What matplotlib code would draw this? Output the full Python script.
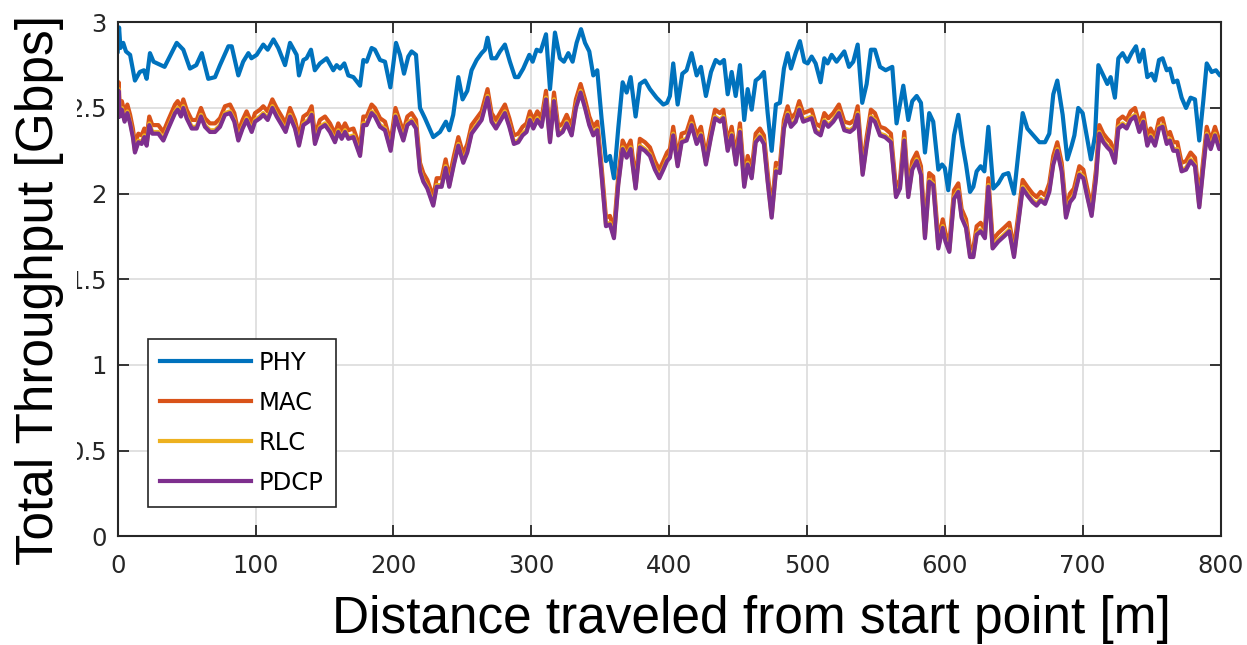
import matplotlib
matplotlib.use('Agg')
import matplotlib.pyplot as plt
from matplotlib.patches import Rectangle

# ---------------- data ----------------
phy_dist = [0, 1, 2, 4, 6, 9, 12.5, 16, 19, 21, 23.4, 26, 34, 42.8, 47.6, 52.4, 57, 61, 65.7, 70.6,
            74.2, 80.3, 82.7, 87.5, 91, 94.8, 97, 100.8, 105.6, 108.8, 113, 116.5, 121.4, 125, 129.8,
            131.5, 134.7, 137, 140.2, 143, 146.7, 151.6, 156.4, 158.8, 161.3, 164.4, 167.3, 171, 175.8,
            178.2, 180.6, 184.2, 186.6, 190.3, 193.9, 197.8, 201.9, 204.8, 207.7, 210.8, 213.2, 216.4,
            219.3, 222.9, 228.9, 233.8, 238.1, 240.5, 243.4, 247.1, 250.2, 253.6, 256.7, 260.4, 264,
            266.4, 268.3, 271.2, 274.4, 277.3, 280.9, 284.5, 288.2, 290.6, 294.2, 298.6, 301, 303.9,
            306.8, 310.7, 313.6, 317.2, 320.8, 323.7, 326.9, 330, 332.9, 336.1, 339, 342.1, 345, 347.9,
            351, 354.2, 357.1, 360, 363.1, 366.3, 369.2, 372.1, 375.7, 378.8, 382.5, 386.1, 390.9,
            395.8, 398.5, 400.6, 403, 406.2, 409.6, 412.7, 416.3, 420, 423.1, 426.7, 430.4, 433.8,
            436.9, 439.8, 442.5, 445.4, 448.3, 451.4, 454.5, 457, 459.9, 462.8, 465.9, 468.8, 471.5,
            474.4, 477.5, 480.4, 483.3, 486, 488.4, 491.8, 494.9, 498.1, 500.5, 503.4, 506.3, 509.9,
            512.6, 515, 517.9, 521.5, 527.1, 530.5, 533.6, 536.8, 540.1, 543.3, 546.4, 549.3, 553,
            557.1, 561.9, 565, 569.9, 573.5, 576.4, 579.6, 582.7, 585.6, 588.7, 591.6, 595.3, 598,
            600, 602.5, 606.7, 609.8, 613, 615.4, 618.3, 620.7, 623.1, 626, 628.7, 631.6, 635.2,
            638.8, 642.4, 646.1, 650.2, 656.5, 659.9, 664.2, 668.6, 672.7, 675.8, 678.7, 681.6,
            685.5, 688.9, 692, 694, 696.8, 700, 702.9, 706, 709, 711.4, 715, 717.9, 720.3, 723.4,
            725.9, 729, 732.4, 735.5, 738.7, 741.1, 744, 746.9, 750, 752.5, 755.4, 758, 761, 763.3,
            765.8, 768.7, 771.8, 775, 778.3, 781.5, 784.6, 787.5, 790, 793.6, 796.7, 799.6, 800]
phy = [2.83, 2.97, 2.85, 2.88, 2.83, 2.81, 2.66, 2.71, 2.72, 2.67, 2.82, 2.77, 2.74, 2.88, 2.84, 2.73,
       2.75, 2.82, 2.67, 2.68, 2.75, 2.86, 2.86, 2.69, 2.77, 2.82, 2.79, 2.81, 2.87, 2.84, 2.90, 2.85,
       2.75, 2.88, 2.81, 2.69, 2.78, 2.79, 2.84, 2.72, 2.76, 2.79, 2.72, 2.75, 2.73, 2.76, 2.69, 2.68,
       2.63, 2.78, 2.77, 2.85, 2.84, 2.78, 2.77, 2.62, 2.88, 2.81, 2.70, 2.80, 2.83, 2.81, 2.50, 2.44,
       2.33, 2.36, 2.42, 2.37, 2.46, 2.68, 2.55, 2.60, 2.72, 2.78, 2.82, 2.84, 2.91, 2.79, 2.79, 2.83,
       2.87, 2.77, 2.68, 2.68, 2.73, 2.81, 2.77, 2.84, 2.83, 2.93, 2.61, 2.94, 2.79, 2.77, 2.82, 2.77,
       2.88, 2.96, 2.88, 2.83, 2.69, 2.72, 2.44, 2.19, 2.22, 2.09, 2.38, 2.65, 2.59, 2.68, 2.45, 2.64,
       2.66, 2.61, 2.56, 2.52, 2.53, 2.57, 2.76, 2.52, 2.70, 2.72, 2.82, 2.69, 2.74, 2.57, 2.71, 2.78,
       2.76, 2.78, 2.58, 2.71, 2.57, 2.75, 2.43, 2.61, 2.49, 2.66, 2.68, 2.71, 2.47, 2.25, 2.52, 2.53,
       2.73, 2.82, 2.73, 2.82, 2.89, 2.77, 2.76, 2.80, 2.76, 2.65, 2.79, 2.76, 2.81, 2.77, 2.83, 2.74,
       2.77, 2.87, 2.53, 2.64, 2.84, 2.84, 2.74, 2.72, 2.74, 2.41, 2.63, 2.43, 2.54, 2.57, 2.53, 2.24,
       2.47, 2.42, 2.14, 2.17, 2.15, 2.02, 2.34, 2.46, 2.28, 2.17, 2.01, 2.04, 2.13, 2.16, 2.13, 2.39,
       2.03, 2.06, 2.11, 2.12, 2.00, 2.47, 2.38, 2.34, 2.30, 2.30, 2.35, 2.58, 2.66, 2.46, 2.20, 2.28,
       2.34, 2.50, 2.47, 2.34, 2.20, 2.34, 2.75, 2.69, 2.64, 2.68, 2.56, 2.79, 2.82, 2.77, 2.82, 2.86,
       2.77, 2.84, 2.68, 2.70, 2.66, 2.78, 2.79, 2.72, 2.73, 2.65, 2.66, 2.56, 2.50, 2.56, 2.55, 2.31,
       2.54, 2.76, 2.71, 2.72, 2.69, 2.69]

low_dist = [0, 0.7, 1.5, 3, 5, 7, 9, 11, 12.5, 15, 17.4, 19.3, 21, 22.9, 25.1, 29.5, 33.1, 36.7, 41.6,
            43.5, 45.9, 47.6, 50, 53.7, 57.3, 60.4, 63.3, 66.9, 70.6, 74.2, 77.8, 81.5, 84.6, 87.5,
            90.6, 93.5, 97.2, 99.6, 103.2, 105.6, 108.8, 112.2, 115.3, 119, 121.8, 125, 128.6, 131.5,
            134.7, 138.3, 140.7, 143.1, 146.7, 150.4, 154, 157.6, 160, 162.5, 164.9, 167.3, 171,
            175.8, 178.2, 180.6, 184.2, 186.6, 190.3, 193.9, 198, 201.5, 204.3, 207.2, 210.1, 213.2,
            216.4, 219.3, 221.7, 224.6, 228.9, 231.4, 235, 237.9, 240.5, 243.9, 247.1, 250.7, 253.6,
            256.7, 260.4, 264, 268.3, 271.2, 274.4, 277.3, 280.9, 284.1, 287.4, 290.6, 293.7, 296.6,
            299, 301.5, 304.4, 307.5, 310.7, 313.6, 316.5, 319.6, 322.8, 325.7, 329.3, 332.4, 335.8,
            339, 342.1, 345, 347.9, 351, 354.2, 357.1, 360, 363.1, 366.3, 369.2, 372.1, 375.7, 378.8,
            382.5, 386.1, 389.7, 392.9, 395.8, 398.5, 400.6, 403, 406.2, 409.1, 412.7, 416.3, 420,
            423.1, 426.7, 430.4, 433.3, 436.9, 439.3, 442.5, 445.4, 448.5, 451.4, 454.5, 457, 459.9,
            462.8, 465.9, 468.8, 471.5, 474.4, 477.5, 480.4, 483.3, 486, 488.4, 491.8, 494.4, 497.3,
            500.5, 503.4, 506.3, 509.9, 512.6, 515.5, 519.1, 523.2, 527.1, 531.2, 534.3, 536.8,
            540.4, 543.3, 546.4, 549.3, 553, 556.6, 560.9, 564.6, 567.5, 570.6, 573.5, 576.4, 579.6,
            582.7, 585.6, 588.7, 591.6, 595.3, 598.5, 600.5, 603.3, 606.7, 609.8, 612.2, 615.4,
            618.3, 620.7, 623.1, 626, 629.1, 631.6, 634.7, 638.8, 642.9, 646.8, 650.2, 656.5, 659.9,
            663.7, 666.6, 669.5, 672.7, 675.8, 678.7, 681.6, 684.8, 687.9, 690.8, 693.7, 697.6,
            700.5, 703.4, 706.5, 709.7, 712.1, 715, 717.9, 720.3, 723.4, 725.9, 729, 731.9, 734.8,
            738, 741.1, 744, 746.9, 749.3, 752.5, 755.4, 758, 761, 763.3, 765.8, 768.7, 771.8, 775,
            778.3, 781.5, 784.6, 787.5, 790, 792.9, 796, 799.1, 800]
pdcp = [2.45, 2.60, 2.45, 2.49, 2.42, 2.47, 2.41, 2.33, 2.24, 2.30, 2.29, 2.33, 2.28, 2.40, 2.35, 2.35,
        2.31, 2.38, 2.47, 2.49, 2.45, 2.50, 2.44, 2.38, 2.38, 2.45, 2.39, 2.36, 2.36, 2.39, 2.46, 2.47,
        2.42, 2.31, 2.38, 2.43, 2.36, 2.42, 2.44, 2.46, 2.43, 2.50, 2.45, 2.40, 2.36, 2.45, 2.38, 2.28,
        2.40, 2.42, 2.46, 2.29, 2.38, 2.40, 2.36, 2.30, 2.36, 2.32, 2.36, 2.32, 2.33, 2.22, 2.40, 2.40,
        2.47, 2.45, 2.39, 2.37, 2.25, 2.45, 2.38, 2.31, 2.40, 2.42, 2.38, 2.13, 2.07, 2.03, 1.93, 2.04,
        2.04, 2.15, 2.04, 2.17, 2.28, 2.18, 2.24, 2.35, 2.39, 2.43, 2.56, 2.42, 2.38, 2.42, 2.47, 2.39,
        2.29, 2.30, 2.34, 2.36, 2.43, 2.38, 2.43, 2.39, 2.55, 2.30, 2.54, 2.34, 2.36, 2.41, 2.34, 2.50,
        2.59, 2.50, 2.40, 2.34, 2.37, 2.11, 1.81, 1.82, 1.74, 2.05, 2.26, 2.21, 2.26, 2.03, 2.27, 2.25,
        2.22, 2.14, 2.09, 2.14, 2.19, 2.21, 2.34, 2.16, 2.30, 2.31, 2.40, 2.29, 2.34, 2.17, 2.33, 2.44,
        2.42, 2.44, 2.25, 2.34, 2.17, 2.36, 2.04, 2.17, 2.09, 2.30, 2.33, 2.29, 2.07, 1.86, 2.13, 2.12,
        2.38, 2.46, 2.39, 2.42, 2.49, 2.42, 2.43, 2.44, 2.36, 2.34, 2.42, 2.39, 2.42, 2.47, 2.37, 2.36,
        2.38, 2.46, 2.11, 2.28, 2.44, 2.42, 2.34, 2.33, 2.30, 1.98, 2.03, 2.31, 1.98, 2.14, 2.19, 2.11,
        1.74, 2.07, 2.05, 1.68, 1.80, 1.72, 1.66, 1.97, 2.01, 1.86, 1.80, 1.63, 1.63, 1.76, 1.78, 1.74,
        2.04, 1.68, 1.72, 1.75, 1.78, 1.63, 2.03, 1.99, 1.95, 1.93, 1.96, 1.94, 2.01, 2.17, 2.25, 2.13,
        1.86, 1.95, 1.98, 2.11, 2.09, 1.98, 1.87, 2.09, 2.35, 2.30, 2.27, 2.25, 2.18, 2.38, 2.40, 2.38,
        2.43, 2.45, 2.36, 2.42, 2.28, 2.33, 2.28, 2.38, 2.39, 2.29, 2.31, 2.25, 2.25, 2.13, 2.14, 2.19,
        2.16, 1.92, 2.15, 2.34, 2.26, 2.34, 2.26, 2.27]
mac = [2.50, 2.65, 2.50, 2.54, 2.47, 2.52, 2.46, 2.38, 2.29, 2.35, 2.34, 2.38, 2.33, 2.45, 2.40, 2.40,
       2.36, 2.43, 2.52, 2.54, 2.50, 2.55, 2.49, 2.43, 2.43, 2.50, 2.44, 2.41, 2.41, 2.44, 2.51, 2.52,
       2.47, 2.36, 2.43, 2.48, 2.41, 2.47, 2.49, 2.51, 2.48, 2.55, 2.50, 2.45, 2.41, 2.50, 2.43, 2.33,
       2.45, 2.47, 2.51, 2.34, 2.43, 2.45, 2.41, 2.35, 2.41, 2.37, 2.41, 2.37, 2.38, 2.27, 2.45, 2.45,
       2.52, 2.50, 2.44, 2.42, 2.30, 2.50, 2.43, 2.36, 2.45, 2.47, 2.43, 2.18, 2.12, 2.08, 1.98, 2.09,
       2.09, 2.20, 2.09, 2.22, 2.33, 2.23, 2.29, 2.40, 2.44, 2.48, 2.61, 2.47, 2.43, 2.47, 2.52, 2.44,
       2.34, 2.35, 2.39, 2.41, 2.48, 2.43, 2.48, 2.44, 2.60, 2.35, 2.59, 2.39, 2.41, 2.46, 2.39, 2.55,
       2.64, 2.55, 2.45, 2.39, 2.42, 2.16, 1.86, 1.87, 1.79, 2.10, 2.31, 2.26, 2.31, 2.08, 2.32, 2.30,
       2.27, 2.19, 2.14, 2.19, 2.24, 2.26, 2.39, 2.21, 2.35, 2.36, 2.45, 2.34, 2.39, 2.22, 2.38, 2.49,
       2.47, 2.49, 2.30, 2.39, 2.22, 2.41, 2.09, 2.22, 2.14, 2.35, 2.38, 2.34, 2.12, 1.91, 2.18, 2.17,
       2.43, 2.51, 2.44, 2.47, 2.54, 2.47, 2.48, 2.49, 2.41, 2.39, 2.47, 2.44, 2.47, 2.52, 2.42, 2.41,
       2.43, 2.51, 2.16, 2.33, 2.49, 2.47, 2.39, 2.38, 2.35, 2.03, 2.08, 2.36, 2.03, 2.19, 2.24, 2.16,
       1.79, 2.12, 2.10, 1.73, 1.85, 1.77, 1.71, 2.02, 2.06, 1.91, 1.85, 1.68, 1.68, 1.81, 1.83, 1.79,
       2.09, 1.73, 1.77, 1.80, 1.83, 1.68, 2.08, 2.04, 2.00, 1.98, 2.01, 1.99, 2.06, 2.22, 2.30, 2.18,
       1.91, 2.00, 2.03, 2.16, 2.14, 2.03, 1.92, 2.14, 2.40, 2.35, 2.32, 2.30, 2.23, 2.43, 2.45, 2.43,
       2.48, 2.50, 2.41, 2.47, 2.33, 2.38, 2.33, 2.43, 2.44, 2.34, 2.36, 2.30, 2.30, 2.18, 2.19, 2.24,
       2.21, 1.97, 2.20, 2.39, 2.31, 2.39, 2.31, 2.32]
rlc = [2.46, 2.61, 2.46, 2.50, 2.43, 2.48, 2.42, 2.34, 2.25, 2.31, 2.30, 2.34, 2.29, 2.41, 2.36, 2.36,
       2.32, 2.39, 2.48, 2.50, 2.46, 2.51, 2.45, 2.39, 2.39, 2.46, 2.40, 2.37, 2.37, 2.40, 2.47, 2.48,
       2.43, 2.32, 2.39, 2.44, 2.37, 2.43, 2.45, 2.47, 2.44, 2.51, 2.46, 2.41, 2.37, 2.46, 2.39, 2.29,
       2.41, 2.43, 2.47, 2.30, 2.39, 2.41, 2.37, 2.31, 2.37, 2.33, 2.37, 2.33, 2.34, 2.23, 2.41, 2.41,
       2.48, 2.46, 2.40, 2.38, 2.26, 2.46, 2.39, 2.32, 2.41, 2.43, 2.39, 2.14, 2.08, 2.04, 1.94, 2.05,
       2.05, 2.16, 2.05, 2.18, 2.29, 2.19, 2.25, 2.36, 2.40, 2.44, 2.57, 2.43, 2.39, 2.43, 2.48, 2.40,
       2.30, 2.31, 2.35, 2.37, 2.44, 2.39, 2.44, 2.40, 2.56, 2.31, 2.55, 2.35, 2.37, 2.42, 2.35, 2.51,
       2.60, 2.51, 2.41, 2.35, 2.38, 2.12, 1.82, 1.83, 1.75, 2.06, 2.27, 2.22, 2.27, 2.04, 2.28, 2.26,
       2.23, 2.15, 2.10, 2.15, 2.20, 2.22, 2.35, 2.17, 2.31, 2.32, 2.41, 2.30, 2.35, 2.18, 2.34, 2.45,
       2.43, 2.45, 2.26, 2.35, 2.18, 2.37, 2.05, 2.18, 2.10, 2.31, 2.34, 2.30, 2.08, 1.87, 2.14, 2.13,
       2.39, 2.47, 2.40, 2.43, 2.50, 2.43, 2.44, 2.45, 2.37, 2.35, 2.43, 2.40, 2.43, 2.48, 2.38, 2.37,
       2.39, 2.47, 2.12, 2.29, 2.45, 2.43, 2.35, 2.34, 2.31, 1.99, 2.04, 2.32, 1.99, 2.15, 2.20, 2.12,
       1.75, 2.08, 2.06, 1.69, 1.81, 1.73, 1.67, 1.98, 2.02, 1.87, 1.81, 1.64, 1.64, 1.77, 1.79, 1.75,
       2.05, 1.69, 1.73, 1.76, 1.79, 1.64, 2.04, 2.00, 1.96, 1.94, 1.97, 1.95, 2.02, 2.18, 2.26, 2.14,
       1.87, 1.96, 1.99, 2.12, 2.10, 1.99, 1.88, 2.10, 2.36, 2.31, 2.28, 2.26, 2.19, 2.39, 2.41, 2.39,
       2.44, 2.46, 2.37, 2.43, 2.29, 2.34, 2.29, 2.39, 2.40, 2.30, 2.32, 2.26, 2.26, 2.14, 2.15, 2.20,
       2.17, 1.93, 2.16, 2.35, 2.27, 2.35, 2.27, 2.28]

series_names = ['PHY', 'MAC', 'RLC', 'PDCP']
series_colors = ['#0072BD', '#D95319', '#EDB120', '#7E2F8E']
xtick_vals = [0, 100, 200, 300, 400, 500, 600, 700, 800]
ytick_vals = [0, 0.5, 1, 1.5, 2, 2.5, 3]
ytick_text = ['0', '0.5', '1', '1.5', '2', '2.5', '3']
xlabel_text = 'Distance traveled from start point [m]'
ylabel_text = 'Total Throughput [Gbps]'

# ---------------- figure ----------------
W, H = 1247, 645
fig = plt.figure(figsize=(W / 100, H / 100), dpi=100)
ax = fig.add_axes([117.7 / W, 1 - 536.3 / H, 1102.8 / W, 514.0 / H])

lw = 3.0
xs = [phy_dist, low_dist, low_dist, low_dist]
ys = [phy, mac, rlc, pdcp]
for xv, yv, name, col in zip(xs, ys, series_names, series_colors):
    ax.plot(xv, yv, color=col, lw=lw, label=name, solid_joinstyle='round')

ax.set_xlim(0, 800)
ax.set_ylim(0, 3)
ax.set_xticks(xtick_vals)
ax.set_yticks(ytick_vals)
ax.set_yticklabels(ytick_text)
ax.grid(True, color='#dcdcdc', lw=1.2)
ax.set_axisbelow(True)
ax.tick_params(direction='in', length=8, width=1.3, top=True, right=True,
               labelsize=17.5, colors='#262626', pad=8)
ax.tick_params(axis='x', pad=13)
for lab in ax.get_xticklabels() + ax.get_yticklabels():
    lab.set_family('DejaVu Sans')
for sp in ax.spines.values():
    sp.set_color('#262626')
    sp.set_linewidth(1.5)

leg = ax.legend(loc='lower left', bbox_to_anchor=(0.0275, 0.057), borderaxespad=0,
                fontsize=17.5, handlelength=3.75, handletextpad=0.3, labelspacing=0.66,
                borderpad=0.5, fancybox=False, framealpha=1, edgecolor='#262626')
leg.get_frame().set_linewidth(1.2)
for t in leg.get_texts():
    t.set_family('DejaVu Sans')

# white block under the y label that hides part of the tick labels
fig.patches.append(Rectangle((0, 0), 77 / W, 1, transform=fig.transFigure,
                             facecolor='white', edgecolor='none', zorder=2))
fig.text(40 / W, 1 - 290 / H, ylabel_text, rotation=90, ha='center', va='center',
         fontsize=37, family='Liberation Sans', color='black', zorder=3)
fig.text(751 / W, 1 - 619 / H, xlabel_text, ha='center', va='center',
         fontsize=37, family='Liberation Sans', color='black', zorder=3)

fig.savefig('out.png', dpi=100, facecolor='white')
